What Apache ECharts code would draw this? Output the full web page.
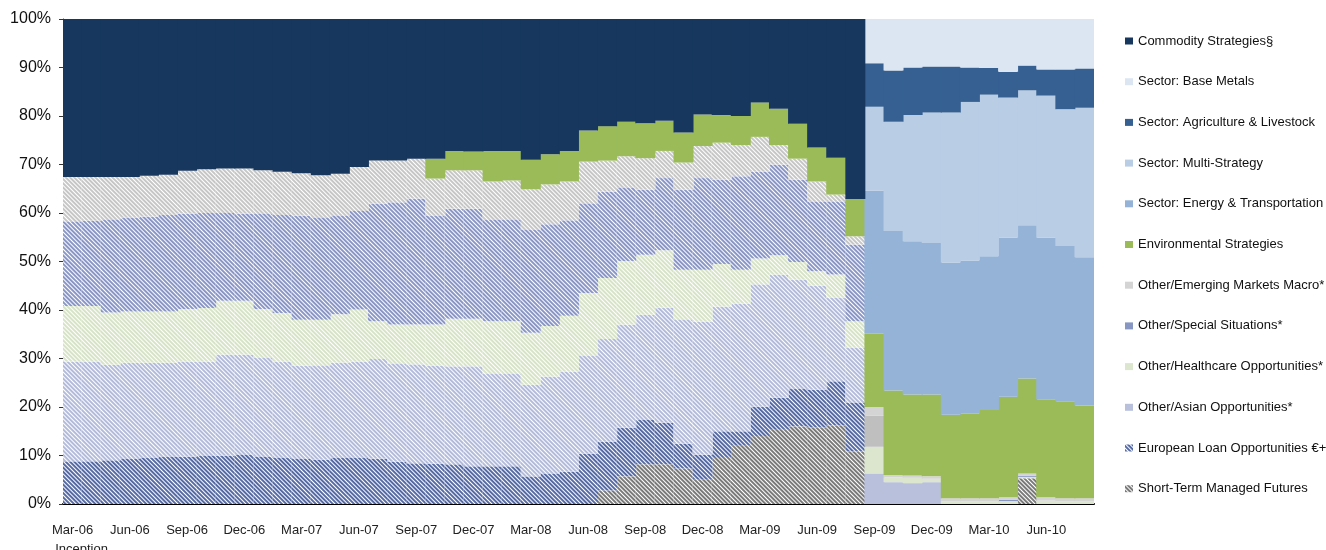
<!DOCTYPE html>
<html>
<head>
<meta charset="utf-8">
<title>Strategy allocation</title>
<script src="https://cdn.jsdelivr.net/npm/echarts@6/dist/echarts.min.js"></script>
<style>
  html, body { margin: 0; padding: 0; background: #ffffff; }
  #chart { width: 1326px; height: 550px; }
</style>
</head>
<body>
<div id="chart"></div>
<script>
// months, one bar each
const months = [
  'Mar-06', 'Apr-06', 'May-06', 'Jun-06', 'Jul-06', 'Aug-06', 'Sep-06', 'Oct-06', 'Nov-06', 'Dec-06',
  'Jan-07', 'Feb-07', 'Mar-07', 'Apr-07', 'May-07', 'Jun-07', 'Jul-07', 'Aug-07', 'Sep-07', 'Oct-07', 'Nov-07', 'Dec-07',
  'Jan-08', 'Feb-08', 'Mar-08', 'Apr-08', 'May-08', 'Jun-08', 'Jul-08', 'Aug-08', 'Sep-08', 'Oct-08', 'Nov-08', 'Dec-08',
  'Jan-09', 'Feb-09', 'Mar-09', 'Apr-09', 'May-09', 'Jun-09', 'Jul-09', 'Aug-09', 'Sep-09', 'Oct-09', 'Nov-09', 'Dec-09',
  'Jan-10', 'Feb-10', 'Mar-10', 'Apr-10', 'May-10', 'Jun-10', 'Jul-10', 'Aug-10'
]
// bars before this index use the old (hatched) classification
const hatchUntil = 42

// values in % of portfolio
const commodity = [32.6, 32.6, 32.6, 32.6, 32.3, 32.1, 31.3, 31.0, 30.8, 30.8, 31.2, 31.5, 31.8, 32.2, 31.9, 30.5, 29.2, 29.2, 28.8, 28.8, 27.2, 27.3, 27.2, 27.2, 29.0, 27.9, 27.2, 23.0, 22.1, 21.2, 21.5, 21.0, 23.4, 19.7, 19.8, 20.0, 17.2, 18.5, 21.6, 26.5, 28.6, 37.1,
  0, 0, 0, 0, 0, 0, 0, 0, 0, 0, 0, 0]
const baseMetals = [0, 0, 0, 0, 0, 0, 0, 0, 0, 0, 0, 0, 0, 0, 0, 0, 0, 0, 0, 0, 0, 0, 0, 0, 0, 0, 0, 0, 0, 0, 0, 0, 0, 0, 0, 0, 0, 0, 0, 0, 0, 0,
  9.1, 10.6, 10.0, 9.8, 9.8, 10.0, 10.1, 10.9, 9.6, 10.4, 10.4, 10.2]
const agriculture = [0, 0, 0, 0, 0, 0, 0, 0, 0, 0, 0, 0, 0, 0, 0, 0, 0, 0, 0, 0, 0, 0, 0, 0, 0, 0, 0, 0, 0, 0, 0, 0, 0, 0, 0, 0, 0, 0, 0, 0, 0, 0,
  9.0, 10.6, 9.8, 9.5, 9.5, 7.1, 5.5, 5.3, 5.1, 5.4, 8.2, 8.1]
const multiStrategy = [0, 0, 0, 0, 0, 0, 0, 0, 0, 0, 0, 0, 0, 0, 0, 0, 0, 0, 0, 0, 0, 0, 0, 0, 0, 0, 0, 0, 0, 0, 0, 0, 0, 0, 0, 0, 0, 0, 0, 0, 0, 0,
  17.3, 22.5, 26.0, 26.9, 30.9, 32.7, 33.3, 28.9, 27.8, 29.3, 28.2, 30.8]
const energy = [0, 0, 0, 0, 0, 0, 0, 0, 0, 0, 0, 0, 0, 0, 0, 0, 0, 0, 0, 0, 0, 0, 0, 0, 0, 0, 0, 0, 0, 0, 0, 0, 0, 0, 0, 0, 0, 0, 0, 0, 0, 0,
  29.5, 32.9, 31.6, 31.2, 31.4, 31.6, 31.7, 32.8, 31.6, 33.3, 32.0, 30.6]
const environmental = [0, 0, 0, 0, 0, 0, 0, 0, 0, 0, 0, 0, 0, 0, 0, 0, 0, 0, 0,
  4.1, 4.0, 3.9, 6.3, 6.1, 6.1, 6.2, 6.3, 6.4, 7.1, 7.1, 7.2, 6.2, 6.2, 6.5, 5.7, 6.0, 7.1, 7.5, 7.2, 7.0, 7.6, 7.7,
  15.1, 17.4, 16.7, 16.9, 17.2, 17.4, 18.2, 20.7, 19.6, 20.2, 20.0, 19.1]
const emMacro = [9.1, 9.0, 8.7, 8.4, 8.4, 8.3, 8.8, 9.0, 9.2, 9.3, 9.0, 8.9, 8.7, 8.7, 8.7, 9.1, 8.9, 8.6, 8.2, 7.7, 7.9, 7.9, 7.8, 8.0, 8.4, 8.2, 8.0, 8.6, 6.4, 6.4, 6.5, 5.6, 5.6, 6.6, 7.6, 6.4, 7.2, 4.0, 4.3, 4.1, 1.4, 1.7,
  1.8, 0.5, 0.5, 0.5, 0.6, 0.6, 0.6, 0.5, 0.5, 0.7, 0.6, 0.6]
const specialSituations = [17.5, 17.6, 19.2, 19.3, 19.6, 19.9, 19.7, 19.6, 18.1, 18.0, 19.6, 20.2, 21.5, 21.1, 20.3, 20.3, 24.2, 25.2, 26.0, 22.4, 22.7, 22.7, 21.0, 21.0, 21.2, 21.0, 19.7, 18.5, 17.8, 15.2, 13.4, 14.9, 16.5, 18.9, 17.4, 19.3, 17.9, 18.7, 17.0, 14.4, 15.1, 15.8,
  0, 0, 0, 0, 0, 0, 0, 0.3, 0.2, 0, 0, 0]
const otherGrey = [0, 0, 0, 0, 0, 0, 0, 0, 0, 0, 0, 0, 0, 0, 0, 0, 0, 0, 0, 0, 0, 0, 0, 0, 0, 0, 0, 0, 0, 0, 0, 0, 0, 0, 0, 0, 0, 0, 0, 0, 0, 0,
  6.4, 0, 0, 0, 0, 0, 0, 0, 0, 0, 0, 0]
const healthcare = [11.4, 11.4, 10.8, 10.6, 10.6, 10.6, 10.8, 11.0, 11.1, 11.1, 10.1, 10.0, 9.5, 9.4, 9.9, 10.7, 7.8, 8.0, 8.2, 8.5, 9.8, 9.8, 10.9, 10.9, 10.7, 10.4, 11.5, 13.0, 12.6, 13.1, 12.4, 11.8, 10.2, 10.7, 8.8, 7.0, 5.3, 4.0, 3.6, 3.0, 4.8, 5.5,
  5.5, 1.0, 1.1, 0.7, 0.6, 0.6, 0.6, 0.6, 0.3, 0.7, 0.6, 0.6]
const asian = [20.6, 20.6, 19.7, 19.8, 19.6, 19.4, 19.6, 19.5, 20.8, 20.7, 20.4, 19.9, 19.2, 19.4, 19.7, 19.9, 20.5, 20.3, 20.4, 20.2, 20.2, 20.6, 19.0, 19.0, 18.9, 20.1, 20.6, 20.1, 21.1, 21.3, 21.7, 23.7, 25.7, 27.4, 25.7, 26.3, 25.2, 25.4, 22.6, 21.4, 17.2, 11.4,
  6.3, 4.5, 4.3, 4.5, 0, 0, 0, 0, 0, 0, 0, 0]
const europeanLoan = [8.8, 8.8, 9.0, 9.3, 9.5, 9.7, 9.8, 9.9, 10.0, 10.1, 9.7, 9.5, 9.3, 9.2, 9.5, 9.5, 9.4, 8.7, 8.4, 8.3, 8.2, 7.8, 7.8, 7.8, 5.7, 6.2, 6.7, 10.4, 10.1, 10.0, 9.1, 8.6, 5.1, 5.2, 5.5, 3.0, 6.1, 6.6, 7.7, 7.8, 9.1, 9.9,
  0, 0, 0, 0, 0, 0, 0, 0, 0, 0, 0, 0]
const shortTermFutures = [0, 0, 0, 0, 0, 0, 0, 0, 0, 0, 0, 0, 0, 0, 0, 0, 0, 0, 0, 0, 0, 0, 0, 0, 0, 0, 0, 0,
  2.8, 5.7, 8.2, 8.2, 7.3, 5.0, 9.5, 12.0, 14.0, 15.3, 16.0, 15.8, 16.2, 10.9,
  0, 0, 0, 0, 0, 0, 0, 0, 5.3, 0, 0, 0]

const FONT = 'Liberation Sans, Arial, sans-serif'

// diagonal "\" stripes on white
function hatch(color) {
  return {
    symbol: 'rect',
    symbolSize: 1,
    dashArrayX: [1, 0],
    dashArrayY: [2, 1],
    rotation: Math.PI / 4,
    color: color
  }
}

// solid series, fully hatched series, and series hatched only before hatchUntil
function makeSeries(name, values, color, mode, stripe) {
  let data = values
  let itemStyle = { color: color }
  if (mode === 'hatch') {
    itemStyle = { color: '#ffffff', decal: hatch(stripe) }
  } else if (mode === 'old') {
    data = values.map((v, i) => i < hatchUntil
      ? { value: v, itemStyle: { color: '#ffffff', decal: hatch(stripe) } }
      : v)
  }
  return {
    name: name,
    type: 'bar',
    stack: 'total',
    barWidth: 20,
    data: data,
    itemStyle: itemStyle,
    emphasis: { disabled: true }
  }
}

const chart = echarts.init(document.getElementById('chart'))

chart.setOption({
  animation: false,
  textStyle: { fontFamily: FONT },
  grid: { left: 63, right: 232, top: 19, bottom: 46, outerBoundsMode: 'none' },
  legend: {
    orient: 'vertical',
    left: 1125,
    top: 34,
    padding: 0,
    itemWidth: 8,
    itemHeight: 7,
    itemGap: 26.7,
    icon: 'rect',
    selectedMode: false,
    textStyle: { fontSize: 13, color: '#111', lineHeight: 14, fontFamily: FONT },
    data: [
      'Commodity Strategies§', 'Sector: Base Metals', 'Sector: Agriculture & Livestock', 'Sector: Multi-Strategy',
      'Sector: Energy & Transportation', 'Environmental Strategies', 'Other/Emerging Markets Macro*',
      'Other/Special Situations*', 'Other/Healthcare Opportunities*', 'Other/Asian Opportunities*',
      'European Loan Opportunities €+', 'Short-Term Managed Futures'
    ]
  },
  xAxis: {
    type: 'category',
    data: months,
    axisLine: { lineStyle: { color: '#000', width: 2 } },
    axisTick: { interval: 2, length: 5, lineStyle: { color: '#000' } },
    axisLabel: {
      interval: 2,
      fontSize: 13,
      color: '#222',
      margin: 17,
      lineHeight: 19,
      formatter: (v, i) => i === 0 ? v + '\n{inc|Inception}' : v,
      rich: { inc: { fontSize: 13, color: '#222', padding: [0, 0, 0, 18] } }
    }
  },
  yAxis: {
    type: 'value',
    min: 0,
    max: 100,
    interval: 10,
    splitLine: { show: false },
    axisLine: { show: true, lineStyle: { color: '#333', width: 1 } },
    axisTick: { show: true, length: 4, lineStyle: { color: '#333' } },
    axisLabel: { formatter: '{value}%', fontSize: 16, color: '#111', margin: 12 }
  },
  series: [
    makeSeries('Short-Term Managed Futures', shortTermFutures, '#808080', 'hatch', '#7a7a7a'),
    makeSeries('European Loan Opportunities €+', europeanLoan, '#5a6fa8', 'hatch', '#566ba5'),
    makeSeries('Other/Asian Opportunities*', asian, '#b9c0dc', 'old', '#b3bbdb'),
    makeSeries('Other/Healthcare Opportunities*', healthcare, '#dce6cf', 'old', '#d6e3c6'),
    makeSeries('Other', otherGrey, '#bfbfbf', 'solid'),
    makeSeries('Other/Special Situations*', specialSituations, '#8896c4', 'old', '#8a97c6'),
    makeSeries('Other/Emerging Markets Macro*', emMacro, '#d4d4d4', 'old', '#c6c6c6'),
    makeSeries('Environmental Strategies', environmental, '#9bbb59', 'solid'),
    makeSeries('Sector: Energy & Transportation', energy, '#95b3d7', 'solid'),
    makeSeries('Sector: Multi-Strategy', multiStrategy, '#b9cde5', 'solid'),
    makeSeries('Sector: Agriculture & Livestock', agriculture, '#366092', 'solid'),
    makeSeries('Sector: Base Metals', baseMetals, '#dce6f2', 'solid'),
    makeSeries('Commodity Strategies§', commodity, '#17375e', 'solid')
  ]
})
</script>
</body>
</html>
